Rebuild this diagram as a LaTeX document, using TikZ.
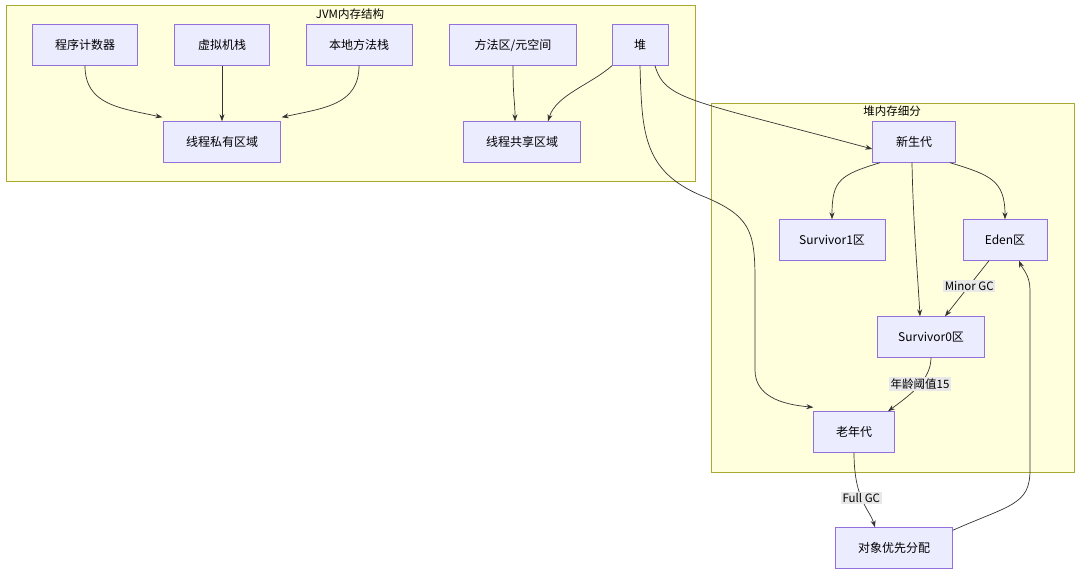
\documentclass[tikz,border=0pt]{standalone}
\usepackage{fontspec}
\usepackage{xcolor}
\setmainfont{Noto Sans CJK SC}
\definecolor{clfill}{HTML}{FFFFDE}
\definecolor{cldraw}{HTML}{AAAA33}
\definecolor{ndfill}{HTML}{ECECFF}
\definecolor{nddraw}{HTML}{9370DB}
\definecolor{lbfill}{HTML}{E8E8E8}
\definecolor{edge}{HTML}{333333}
\usetikzlibrary{arrows.meta}

\begin{document}
\begin{tikzpicture}[x=1pt, y=-1pt,
  box/.style={draw=nddraw, fill=ndfill, minimum height=41pt, inner sep=0pt,
              text centered, font=\fontsize{12}{14}\selectfont},
  cluster/.style={draw=cldraw, fill=clfill},
  ctitle/.style={font=\fontsize{11.5}{13}\selectfont},
  arrow/.style={-{Stealth[length=7pt,width=5pt]}, draw=edge, line width=0.7pt},
  lbl/.style={fill=lbfill, inner sep=1.5pt, font=\fontsize{11.5}{13}\selectfont},
]
\useasboundingbox (0,0) rectangle (1080,575);

% Groupes
\draw[cluster] (6,5) rectangle (695,181);
\node[ctitle] (tjvm) at (350,14) {JVM内存结构};
\draw[cluster] (711,103) rectangle (1074,472);
\node[ctitle] (theap) at (892,111) {堆内存细分};

% Boîtes
\node[box, minimum width=105pt] (pc)     at (85,45)   {程序计数器};
\node[box, minimum width=95pt]  (vms)    at (222,45)  {虚拟机栈};
\node[box, minimum width=106pt] (nms)    at (359,45)  {本地方法栈};
\node[box, minimum width=127pt] (meta)   at (513,45)  {方法区/元空间};
\node[box, minimum width=56pt]  (heap)   at (640,45)  {堆};
\node[box, minimum width=117pt] (priv)   at (222,142) {线程私有区域};
\node[box, minimum width=117pt] (shared) at (522,142) {线程共享区域};
\node[box, minimum width=83pt]  (young)  at (914,142) {新生代};
\node[box, minimum width=106pt] (surv1)  at (832,240) {Survivor1区};
\node[box, minimum width=84pt]  (eden)   at (1005,240) {Eden区};
\node[box, minimum width=107pt] (surv0)  at (931,337) {Survivor0区};
\node[box, minimum width=81pt]  (old)    at (854,432) {老年代};
\node[box, minimum width=117pt] (alloc)  at (894,548) {对象优先分配};

% Flèches
\draw[arrow] (pc.south) .. controls (85,105) and (120,108) .. ([xshift=-1pt,yshift=4pt]priv.north west);
\draw[arrow] (vms) -- (priv);
\draw[arrow] (nms.south) .. controls (359,105) and (324,108) .. ([xshift=1pt,yshift=4pt]priv.north east);
\draw[arrow] (meta.south) .. controls (513,100) and (515,100) .. ([xshift=-7pt]shared.north);
\draw[arrow] ([xshift=-28pt]heap.south) .. controls (590,85) and (556,95) .. ([xshift=26pt]shared.north);
\draw[arrow] ([xshift=15pt]heap.south) .. controls (665,100) and (690,100) .. ([yshift=-7pt]young.west);
\draw[arrow] (heap.south) .. controls (642,130) and (642,170) .. (700,195)
  .. controls (750,215) and (755,230) .. (755,280)
  -- (755,370) .. controls (755,400) and (790,405) .. ([yshift=4pt]old.north west);
\draw[arrow] ([xshift=-34pt]young.south) .. controls (840,175) and (832,180) .. (surv1.north);
\draw[arrow] ([xshift=36pt]young.south) .. controls (990,175) and (1005,180) .. (eden.north);
\draw[arrow] ([xshift=-2pt]young.south) .. controls (913,220) and (918,280) .. ([xshift=-11pt]surv0.north);
\draw[arrow] ([xshift=-16pt]eden.south) -- node[lbl, pos=0.45] {Minor GC} ([xshift=14pt]surv0.north);
\draw[arrow] (surv0.south) .. controls (931,380) and (910,395) .. node[lbl, pos=0.45] {年龄阈值15} ([xshift=34pt]old.north);
\draw[arrow] (old.south) .. controls (854,500) and (870,510) .. node[lbl, pos=0.45] {Full GC} ([xshift=-19pt]alloc.north);
\draw[arrow] ([yshift=-3pt]alloc.north east) .. controls (1010,505) and (1030,505) .. (1030,470)
  -- (1030,290) .. controls (1030,275) and (1022,268) .. ([xshift=14pt]eden.south);

\end{tikzpicture}
\end{document}
